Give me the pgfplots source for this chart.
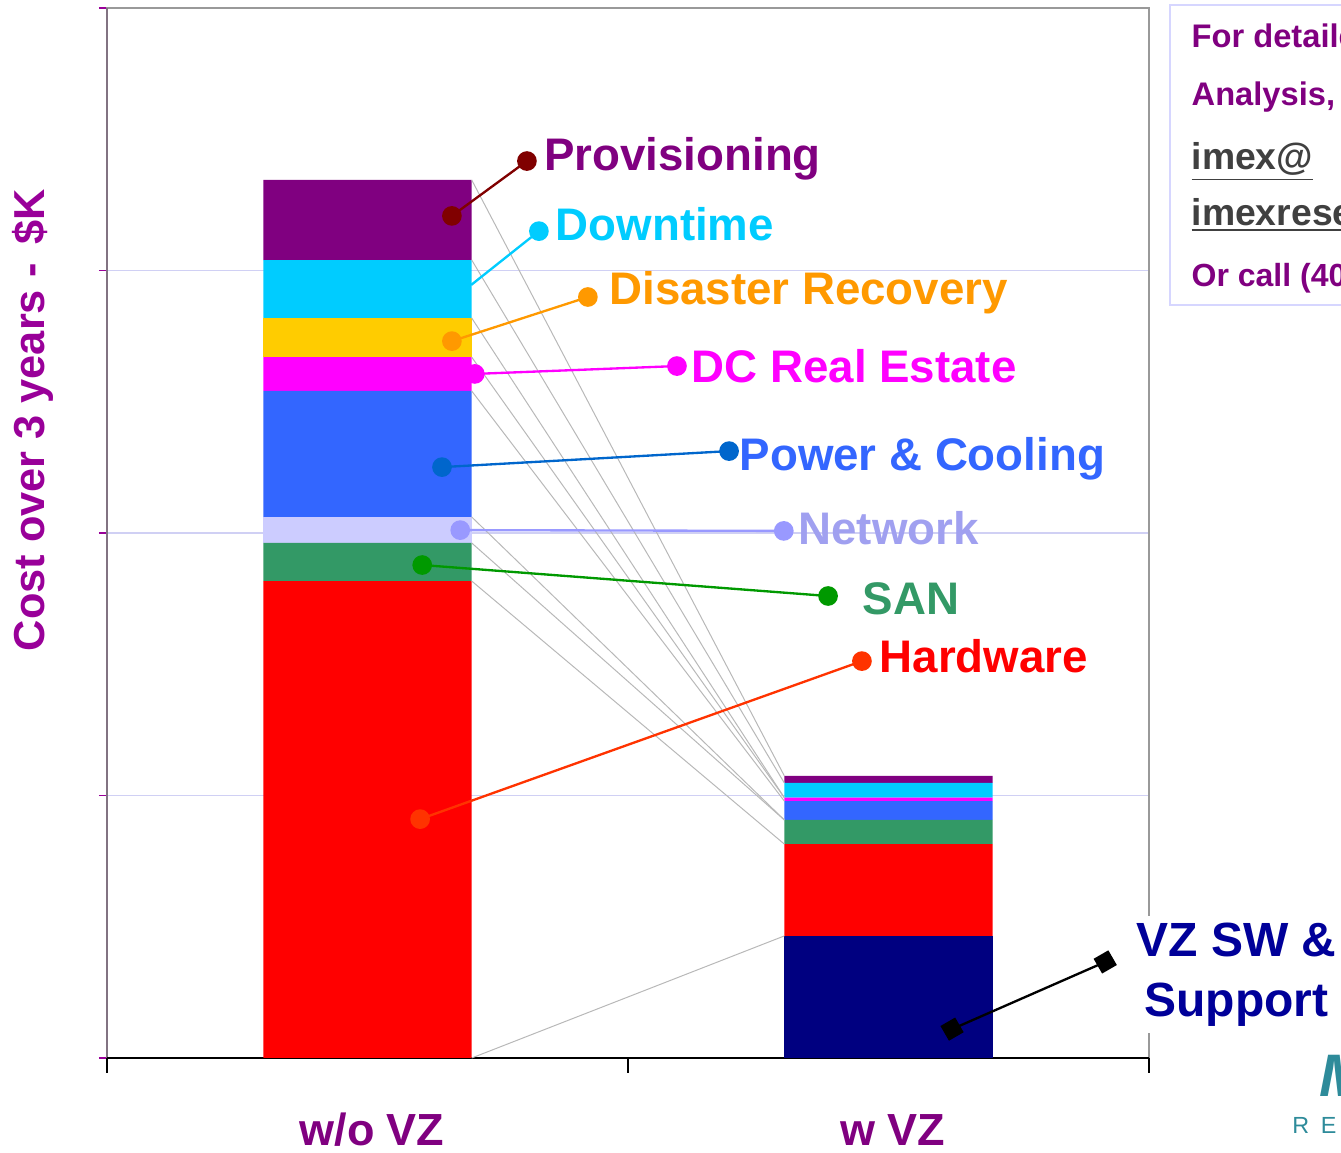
\documentclass[border=0pt]{standalone}
\usepackage{pgfplots}
\pgfplotsset{compat=1.18}
\usepackage{fontspec}
\setmainfont{Liberation Sans}
\definecolor{cPurple}{HTML}{800080}
\definecolor{cCyan}{HTML}{00CCFF}
\definecolor{cYellow}{HTML}{FFCC00}
\definecolor{cMagenta}{HTML}{FF00FF}
\definecolor{cBlue}{HTML}{3366FF}
\definecolor{cLav}{HTML}{CCCCFF}
\definecolor{cGreen}{HTML}{339966}
\definecolor{cRed}{HTML}{FF0000}
\definecolor{cNavy}{HTML}{000080}
\definecolor{tPurple}{HTML}{800080}
\definecolor{tLabel}{HTML}{990099}
\definecolor{tOrange}{HTML}{FF9900}
\definecolor{tNet}{HTML}{A0A0F0}
\definecolor{tNavy}{HTML}{000099}
\definecolor{lDarkRed}{HTML}{800000}
\definecolor{lBlue}{HTML}{0066CC}
\definecolor{lNet}{HTML}{9999FF}
\definecolor{lGreen}{HTML}{009900}
\definecolor{lHard}{HTML}{FF3300}
\definecolor{gridLav}{HTML}{D0D0F4}
\definecolor{logoTeal}{HTML}{2E8B9A}

\pgfplotstableread{
x     vz     hw     san    net    pwr    dc     dr     dt     prov
0.5   0      1.817  0.145  0.099  0.480  0.129  0.149  0.221  0.305
1.5   0.465  0.350  0.092  0.000  0.072  0.013  0.000  0.056  0.027
}\costs

\begin{document}
\begin{tikzpicture}
\useasboundingbox (0,0) rectangle (402.3pt,345.9pt);
\clip (0,0) rectangle (402.3pt,345.9pt);
% bars axis
\begin{axis}[
  at={(32.1pt,28.5pt)}, anchor=south west,
  scale only axis, width=312.6pt, height=315pt,
  xmin=0, xmax=2, ymin=0, ymax=4,
  ybar stacked, bar width=0.4,
  xtick=\empty,
  ytick={0,1,2,3,4}, yticklabels={},
  ytick pos=left, tick align=outside,
  major tick length=2.4pt,
  y tick style={draw=tLabel, line width=0.4pt},
  ymajorgrids, grid style={draw=gridLav, line width=0.4pt},
  axis line style={draw=gray!80, line width=0.6pt},
  clip=false,
]
\addplot[fill=cNavy, draw=none] table[x=x, y=vz] {\costs};
\addplot[fill=cRed, draw=none] table[x=x, y=hw] {\costs};
\addplot[fill=cGreen, draw=none] table[x=x, y=san] {\costs};
\addplot[fill=cLav, draw=none] table[x=x, y=net] {\costs};
\addplot[fill=cBlue, draw=none] table[x=x, y=pwr] {\costs};
\addplot[fill=cMagenta, draw=none] table[x=x, y=dc] {\costs};
\addplot[fill=cYellow, draw=none] table[x=x, y=dr] {\costs};
\addplot[fill=cCyan, draw=none] table[x=x, y=dt] {\costs};
\addplot[fill=cPurple, draw=none] table[x=x, y=prov] {\costs};
\draw[black, line width=0.6pt] (axis cs:0,0) -- (axis cs:2,0);
\draw[black, line width=0.4pt] (axis cs:0,0) -- ++(0,-4.5pt);
\draw[black, line width=0.4pt] (axis cs:1,0) -- ++(0,-4.5pt);
\draw[black, line width=0.4pt] (axis cs:2,0) -- ++(0,-4.5pt);
\draw[gray!90!tLabel, line width=0.8pt] (axis cs:0,0) -- (axis cs:0,4);
\end{axis}
% lines and callouts axis
\begin{axis}[
  at={(32.1pt,28.5pt)}, anchor=south west,
  scale only axis, width=312.6pt, height=315pt,
  xmin=0, xmax=2, ymin=0, ymax=4,
  hide axis, clip=false,
]
\addplot[color=black!28, line width=0.3pt, mark=none] coordinates {(0.7,0) (1.3,0.465)};
\addplot[color=black!28, line width=0.3pt, mark=none] coordinates {(0.7,1.817) (1.3,0.815)};
\addplot[color=black!28, line width=0.3pt, mark=none] coordinates {(0.7,1.962) (1.3,0.907)};
\addplot[color=black!28, line width=0.3pt, mark=none] coordinates {(0.7,2.061) (1.3,0.907)};
\addplot[color=black!28, line width=0.3pt, mark=none] coordinates {(0.7,2.541) (1.3,0.979)};
\addplot[color=black!28, line width=0.3pt, mark=none] coordinates {(0.7,2.670) (1.3,0.992)};
\addplot[color=black!28, line width=0.3pt, mark=none] coordinates {(0.7,2.819) (1.3,0.992)};
\addplot[color=black!28, line width=0.3pt, mark=none] coordinates {(0.7,3.040) (1.3,1.048)};
\addplot[color=black!28, line width=0.3pt, mark=none] coordinates {(0.7,3.345) (1.3,1.075)};
\addplot[lDarkRed, line width=0.7pt, mark=*, mark size=2.6pt] coordinates {(0.662,3.208) (0.806,3.417)};
\addplot[cCyan, line width=0.7pt, mark=*, mark size=2.6pt, mark indices={2}] coordinates {(0.699,2.945) (0.829,3.150)};
\addplot[tOrange, line width=0.7pt, mark=*, mark size=2.6pt] coordinates {(0.662,2.731) (0.923,2.899)};
\addplot[cMagenta, line width=0.7pt, mark=*, mark size=2.6pt] coordinates {(0.706,2.606) (1.094,2.636)};
\addplot[lBlue, line width=0.7pt, mark=*, mark size=2.6pt] coordinates {(0.643,2.251) (1.194,2.312)};
\addplot[lNet, line width=0.7pt, mark=*, mark size=2.6pt] coordinates {(0.678,2.011) (1.299,2.008)};
\addplot[lGreen, line width=0.7pt, mark=*, mark size=2.6pt] coordinates {(0.605,1.878) (1.384,1.760)};
\addplot[lHard, line width=0.7pt, mark=*, mark size=2.6pt] coordinates {(0.601,0.910) (1.449,1.512)};
\addplot[black, line width=0.7pt, mark=square*, mark size=2.2pt, mark options={rotate=30}] coordinates {(1.622,0.110) (1.916,0.366)};
\tikzset{lab/.style={anchor=west, inner sep=0pt, font=\fontsize{13.7pt}{15pt}\selectfont\bfseries}}
\node[lab, text=tPurple] at (axis cs:0.838,3.425) {Provisioning};
\node[lab, text=cCyan] at (axis cs:0.860,3.175) {Downtime};
\node[lab, text=tOrange] at (axis cs:0.963,2.914) {Disaster Recovery};
\node[lab, text=cMagenta] at (axis cs:1.121,2.636) {DC Real Estate};
\node[lab, text=cBlue] at (axis cs:1.213,2.281) {Power \& Cooling};
\node[lab, text=tNet] at (axis cs:1.326,2.017) {Network};
\node[lab, text=cGreen] at (axis cs:1.449,1.748) {SAN};
\node[lab, text=cRed] at (axis cs:1.482,1.530) {Hardware};
\node[anchor=west, fill=white, inner sep=2pt, align=center, text=tNavy,
  font=\fontsize{14.4pt}{18pt}\selectfont\bfseries] at (axis cs:1.962,0.317) {VZ SW \&\\Support};
\end{axis}
% y label
\node[rotate=90, text=tLabel, font=\fontsize{13pt}{15pt}\selectfont\bfseries] at (9.9pt,219.9pt) {Cost over 3 years -\, \$K};
% x labels
\node[text=tPurple, font=\fontsize{13.5pt}{15pt}\selectfont\bfseries] at (111.6pt,6.9pt) {w/o VZ};
\node[text=tPurple, font=\fontsize{13.5pt}{15pt}\selectfont\bfseries] at (267.9pt,6.9pt) {w VZ};
% info box
\draw[draw=cLav!80, line width=0.7pt] (351pt,254.4pt) rectangle (420pt,344.4pt);
\tikzset{box/.style={anchor=west, inner sep=0pt, text=tPurple, font=\fontsize{9.8pt}{11pt}\selectfont\bfseries}}
\node[box] at (357.3pt,335.1pt) {For detailed TCO};
\node[box] at (357.3pt,316.8pt) {Analysis, contact};
\node[anchor=west, inner sep=0pt, text=black!75, font=\fontsize{11.2pt}{13pt}\selectfont\bfseries] at (357.3pt,297.3pt) {\underline{imex@}};
\node[anchor=west, inner sep=0pt, text=black!75, font=\fontsize{11.2pt}{13pt}\selectfont\bfseries] at (357.3pt,281.4pt) {\underline{imexresearch.com}};
\node[box, font=\fontsize{9.6pt}{11pt}\selectfont\bfseries] at (357.3pt,262.5pt) {Or call (408) 268-0800};
% logo fragment
\node[anchor=west, inner sep=0pt, text=logoTeal, font=\fontsize{18pt}{20pt}\selectfont\bfseries\itshape] at (395.5pt,23pt) {M};
\node[anchor=west, inner sep=0pt, text=logoTeal, font=\fontsize{7pt}{8pt}\selectfont] at (387.5pt,8.4pt) {R\hspace{3.5pt}E\hspace{3.5pt}S\hspace{3.5pt}E\hspace{3.5pt}A\hspace{3.5pt}R\hspace{3.5pt}C\hspace{3.5pt}H};
\end{tikzpicture}
\end{document}
